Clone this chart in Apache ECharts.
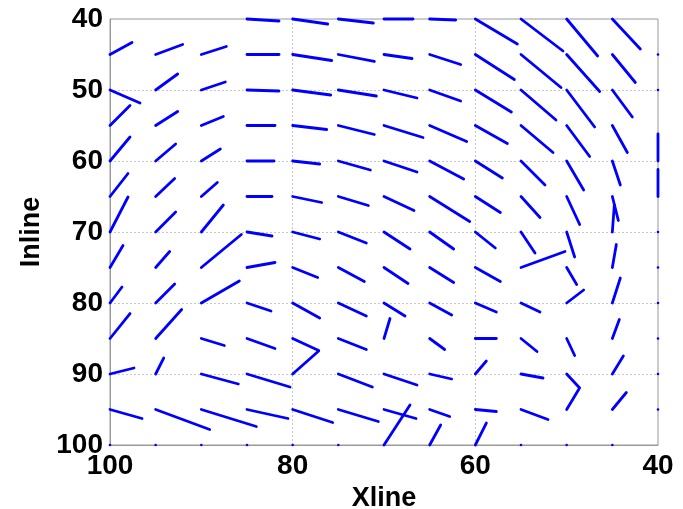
<!DOCTYPE html>
<html>
<head>
<meta charset="utf-8">
<script src="https://cdn.jsdelivr.net/npm/echarts@6/dist/echarts.min.js"></script>
<style>html,body{margin:0;padding:0;background:#fff}#c{width:683px;height:509px}</style>
</head>
<body>
<div id="c"></div>
<script>
// Grid of start points
const xlines = [100, 95, 90, 85, 80, 75, 70, 65, 60, 55, 50, 45, 40];
const inlines = [40, 45, 50, 55, 60, 65, 70, 75, 80, 85, 90, 95, 100];
const xTicks = [40, 60, 80, 100];
const yTicks = [40, 50, 60, 70, 80, 90, 100];

// Vector components (quiver units), one row per inline, columns follow xlines.
// U: toward decreasing Xline (right on the plot), V: toward increasing Inline (down).
const U = [
  [null, null, null, 32, 35, 35, 29, 26, 42, 42, 31, 28, null],
  [22, 27, 25, 32, 39, 36, 28, 31, 39, 40, 33, 23, 0],
  [30, 22, 24, 32, 38, 38, 33, 31, 36, 35, 28, 20, 0],
  [20, 22, 22, 28, 34, 36, 39, 37, 32, 32, 23, 15, null],
  [20, 20, 19, 27, 27, 32, 33, 34, 27, 24, 17, 8, 0],
  [18, 19, 16, 25, 29, 30, 30, 40, 25, 19, 13, 6, 0],
  [18, 20, 22, 25, 27, 28, 26, 24, 20, 14, 8, 2, 0],
  [13, 14, 40, 28, 25, 26, 24, 24, 25, 44, 10, 4, 0],
  [12, 19, 38, 24, 27, 28, 21, 22, 21, 19, 17, 8, 0],
  [20, 26, 23, 28, 26, 28, 6, 15, 21, 16, 8, 7, 0],
  [24, 8, 37, 43, 26, 34, 33, 22, 11, 22, 13, 11, 0],
  [32, 54, 55, 41, 40, 40, 32, 20, 21, 27, 12, 14, 0],
  [0, 0, 0, 0, 0, 0, 26, 11, 11, 0, 0, 0, null]
];
const V = [
  [null, null, null, 2, 5, 4, 0, 1, 25, 32, 37, 30, null],
  [-12, -10, -8, 0, 6, 7, 4, 10, 25, 33, 37, 28, 0],
  [13, -16, -8, 1, 5, 6, 8, 11, 22, 30, 37, 27, 0],
  [-20, -14, -9, 0, 4, 9, 12, 16, 18, 27, 31, 27, null],
  [-24, -17, -12, 0, 3, 9, 11, 18, 17, 24, 29, 24, -27],
  [-23, -18, -14, 0, 6, 9, 14, 25, 16, 21, 28, 24, -27],
  [-35, -20, -27, 4, 7, 11, 17, 17, 16, 21, 25, -27, 0],
  [-22, -16, -33, -5, 10, 14, 16, 15, 14, -16, 17, -23, 0],
  [-16, -19, -22, 8, 15, 13, 13, 12, 9, 9, -13, -25, 0],
  [-25, -29, 7, 10, 12, 11, -20, 11, 0, 13, 17, -19, 0],
  [-6, -16, 10, 13, -23, 13, 11, 5, -13, 4, 14, -18, 0],
  [9, 20, 17, 9, 13, 12, 9, 7, 2, 10, -20, -17, 0],
  [0, 0, 0, 0, 0, 0, -40, -20, -22, 0, 0, 0, null]
];
// quiver scale factors (quiver units -> axis units)
const scaleU = -0.1095;
const scaleV = 0.1408;

const data = [];
inlines.forEach((y, i) => {
  xlines.forEach((x, j) => {
    const u = U[i][j], v = V[i][j];
    if (u === null || v === null) return;
    data.push([x, y, u * scaleU, v * scaleV]);
  });
});

const chart = echarts.init(document.getElementById('c'), null, {renderer: 'canvas'});
const labelFont = {fontFamily: 'Liberation Sans, Arial, sans-serif', fontWeight: 'bold', fontSize: 28, color: '#000'};
chart.setOption({
  animation: false,
  backgroundColor: '#fff',
  grid: {left: 110, right: 25, top: 19, bottom: 64, show: true, borderColor: '#9a9a9a', borderWidth: 1,
         containLabel: false, outerBoundsMode: 'none'},
  xAxis: {
    type: 'value', inverse: true, min: 40, max: 100, interval: 20,
    name: 'Xline', nameLocation: 'middle', nameGap: 34,
    nameTextStyle: Object.assign({}, labelFont, {fontSize: 27}),
    axisLine: {show: true, onZero: false, lineStyle: {color: '#9a9a9a'}},
    axisTick: {show: false},
    axisLabel: Object.assign({}, labelFont, {margin: 7, formatter: v => xTicks.includes(v) ? String(v) : ''}),
    splitLine: {show: true, lineStyle: {color: '#c8c8c8', type: [2, 2]}}
  },
  yAxis: {
    type: 'value', inverse: true, min: 40, max: 100, interval: 10,
    name: 'Inline', nameLocation: 'middle', nameGap: 63,
    nameTextStyle: Object.assign({}, labelFont, {fontSize: 27}),
    axisLine: {show: true, onZero: false, lineStyle: {color: '#9a9a9a'}},
    axisTick: {show: false},
    axisLabel: Object.assign({}, labelFont, {margin: 7, formatter: v => yTicks.includes(v) ? String(v) : ''}),
    splitLine: {show: true, lineStyle: {color: '#c8c8c8', type: [2, 2]}}
  },
  series: [{
    type: 'custom',
    coordinateSystem: 'cartesian2d',
    clip: false,
    encode: {x: 0, y: 1},
    data: data,
    renderItem: function (params, api) {
      const x = api.value(0), y = api.value(1), u = api.value(2), v = api.value(3);
      const p0 = api.coord([x, y]);
      if (u === 0 && v === 0) {
        return {type: 'circle', shape: {cx: p0[0], cy: p0[1], r: 1.3}, style: {fill: '#0000ff'}};
      }
      const p1 = api.coord([x + u, y + v]);
      return {
        type: 'line',
        shape: {x1: p0[0], y1: p0[1], x2: p1[0], y2: p1[1]},
        style: {stroke: '#0000ff', lineWidth: 2.8, lineCap: 'round'}
      };
    }
  }]
});
</script>
</body>
</html>
